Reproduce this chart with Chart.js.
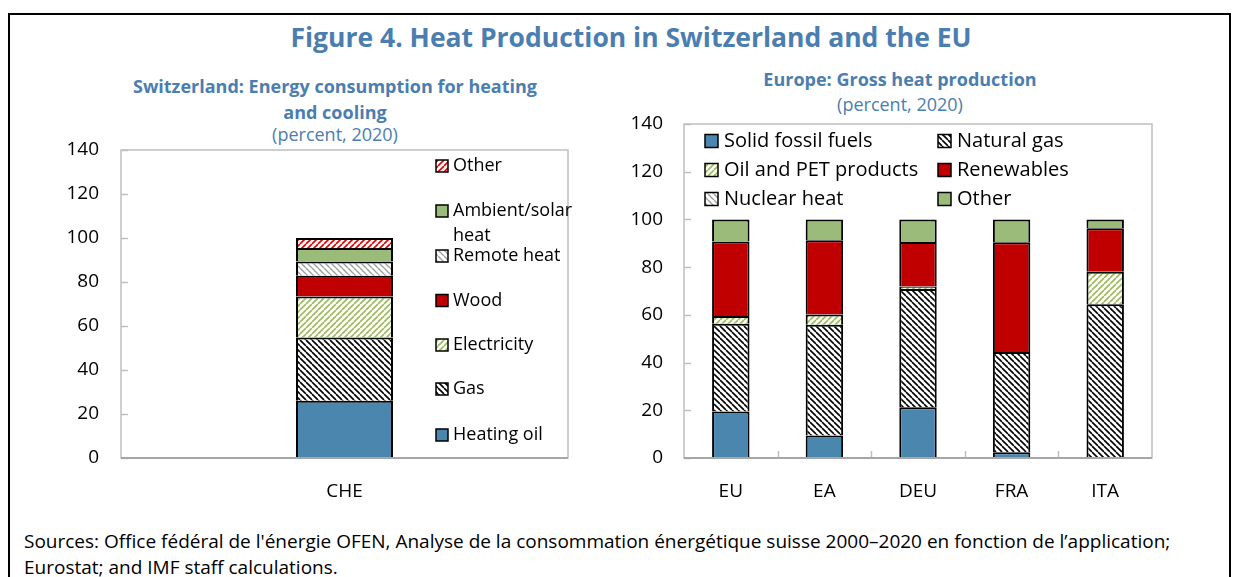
<!DOCTYPE html>
<html><head><meta charset="utf-8">
<script src="https://cdn.jsdelivr.net/npm/chart.js@4.4.0/dist/chart.umd.min.js"></script>
<style>
html,body{margin:0;padding:0;background:#fff;}
body{width:1239px;height:577px;overflow:hidden;position:relative;font-family:"Open Sans",sans-serif;}
#frame{position:absolute;left:8px;top:13px;width:1223px;height:620px;border:2px solid #000;box-sizing:border-box;}
.t{position:absolute;color:#4a7eb0;text-align:center;white-space:nowrap;transform:translateX(-50%);line-height:1;}
#title{left:631px;top:24px;font-size:26.5px;font-weight:700;}
.sub{font-size:18px;font-weight:700;}
.unit{font-size:18px;font-weight:400;}
#src{position:absolute;left:24px;top:528px;font-size:19px;line-height:26px;color:#000;white-space:nowrap;}
canvas{position:absolute;}
#c1{left:0;top:130px;}
#c2{left:600px;top:110px;}
</style></head>
<body>
<div id="frame"></div>
<div class="t" id="title">Figure 4. Heat Production in Switzerland and the EU</div>
<div class="t sub" style="left:335px;top:77px;">Switzerland: Energy consumption for heating</div>
<div class="t sub" style="left:335px;top:103px;">and cooling</div>
<div class="t unit" style="left:335px;top:125px;">(percent, 2020)</div>
<div class="t sub" style="left:900px;top:70px;">Europe: Gross heat production</div>
<div class="t unit" style="left:900px;top:95px;">(percent, 2020)</div>
<canvas id="c1" width="620" height="390"></canvas>
<canvas id="c2" width="639" height="410"></canvas>
<div id="src">Sources: Office fédéral de l'énergie OFEN, Analyse de la consommation énergétique suisse 2000–2020 en fonction de l’application;<br>Eurostat; and IMF staff calculations.</div>
<script>
// ---------- data ----------
const cheCategories = ['CHE'];
const cheHeatingOil = [26.0];
const cheGas = [28.8];
const cheElectricity = [18.6];
const cheWood = [9.4];
const cheRemoteHeat = [6.5];
const cheAmbientSolar = [6.1];
const cheOther = [4.6];

const euCategories = ['EU', 'EA', 'DEU', 'FRA', 'ITA'];
const solidFossil = [19.5, 9.4, 21.3, 2.4, 0];
const naturalGas = [36.8, 46.5, 49.5, 42.0, 64.4];
const oilPet = [3.2, 4.2, 1.1, 0, 13.7];
const nuclearHeat = [0, 0, 0, 0, 0];
const renewables = [31.3, 31.2, 18.6, 46.0, 18.2];
const otherEu = [9.2, 8.7, 9.5, 9.6, 3.7];

const yTickValues = [0, 20, 40, 60, 80, 100, 120, 140];

// ---------- styles ----------
const BLUE = '#4a86ae', RED = '#c00000', GREEN = '#9bbb7b';
function hatch(bg, color, dir, s, lw) {
  const c = document.createElement('canvas'); c.width = s; c.height = s;
  const x = c.getContext('2d');
  x.fillStyle = bg; x.fillRect(0, 0, s, s);
  x.strokeStyle = color; x.lineWidth = lw; x.beginPath();
  for (const k of [-s, 0, s]) {
    if (dir === '\\') { x.moveTo(k, 0); x.lineTo(k + s, s); }
    else { x.moveTo(k, s); x.lineTo(k + s, 0); }
  }
  x.stroke();
  return x.createPattern(c, 'repeat');
}
const pGas = hatch('#fff', '#000', '\\', 6, 1.6);
const pElec = hatch('#fff', '#9bbb59', '/', 6, 1.6);
const pRemote = hatch('#fff', '#a0a0a0', '\\', 6, 1.4);
const pOther = hatch('#fff', '#e00000', '/', 6, 1.6);

Chart.defaults.font.family = '"Open Sans", sans-serif';
Chart.defaults.color = '#000';

const frameAndTicks = {
  id: 'frameAndTicks',
  afterDraw(chart) {
    const ctx = chart.ctx, a = chart.chartArea, y = chart.scales.y, xs = chart.scales.x;
    ctx.save();
    ctx.strokeStyle = '#bfbfbf'; ctx.lineWidth = 1.5;
    ctx.strokeRect(a.left, a.top, a.right - a.left, a.bottom - a.top);
    ctx.beginPath();
    y.ticks.forEach(t => {
      const py = Math.round(y.getPixelForValue(t.value)) + 0.5;
      ctx.moveTo(a.left, py); ctx.lineTo(a.left + 7, py);
    });
    const n = xs.ticks.length;
    for (let i = 0; i < n - 1; i++) {
      const px = Math.round((xs.getPixelForValue(i) + xs.getPixelForValue(i + 1)) / 2) + 0.5;
      ctx.moveTo(px, a.bottom); ctx.lineTo(px, a.bottom - 7);
    }
    ctx.stroke();
    ctx.strokeStyle = '#a6a6a6'; ctx.lineWidth = 2;
    ctx.beginPath(); ctx.moveTo(a.left, a.bottom); ctx.lineTo(a.right, a.bottom); ctx.stroke();
    ctx.restore();
  }
};

const insideLegend = {
  id: 'insideLegend',
  afterDraw(chart, args, opts) {
    if (!opts.items) return;
    const ctx = chart.ctx, a = chart.chartArea;
    ctx.save();
    ctx.font = opts.fontSize + 'px "Open Sans", sans-serif';
    ctx.textBaseline = 'middle';
    opts.items.forEach(it => {
      const bx = a.left + it.x, by = a.top + it.y - opts.box / 2;
      ctx.fillStyle = it.fill; ctx.fillRect(bx, by, opts.box, opts.box);
      ctx.strokeStyle = '#000'; ctx.lineWidth = 1.5; ctx.strokeRect(bx, by, opts.box, opts.box);
      ctx.fillStyle = '#000';
      it.lines.forEach((ln, i) => ctx.fillText(ln, bx + opts.box + opts.gap, a.top + it.y + i * opts.lineH));
    });
    ctx.restore();
  }
};

function yScale(width, pad) {
  return {
    stacked: true, min: 0, max: 140,
    afterBuildTicks: s => { s.ticks = yTickValues.map(v => ({ value: v })); },
    afterFit: s => { s.width = width; s.paddingTop = 0; s.paddingBottom = 0; },
    grid: { display: false, drawTicks: false },
    border: { display: false },
    ticks: { padding: pad, font: { size: 19 }, color: '#000' }
  };
}
function xScale(height, pad) {
  return {
    stacked: true,
    afterFit: s => { s.height = height; s.paddingLeft = 0; s.paddingRight = 0; },
    grid: { display: false, drawTicks: false },
    border: { display: false },
    ticks: { padding: pad, font: { size: 19 }, color: '#000' }
  };
}
const barBase = { borderColor: '#000', borderWidth: 2, borderSkipped: 'start' };

new Chart(document.getElementById('c1'), {
  type: 'bar',
  data: {
    labels: cheCategories,
    datasets: [
      { label: 'Heating oil', data: cheHeatingOil, backgroundColor: BLUE, ...barBase },
      { label: 'Gas', data: cheGas, backgroundColor: pGas, ...barBase },
      { label: 'Electricity', data: cheElectricity, backgroundColor: pElec, ...barBase },
      { label: 'Wood', data: cheWood, backgroundColor: RED, ...barBase },
      { label: 'Remote heat', data: cheRemoteHeat, backgroundColor: pRemote, ...barBase },
      { label: 'Ambient/solar heat', data: cheAmbientSolar, backgroundColor: GREEN, ...barBase },
      { label: 'Other', data: cheOther, backgroundColor: pOther, ...barBase }
    ]
  },
  options: {
    responsive: false, animation: false, devicePixelRatio: 1,
    layout: { padding: { left: 0, top: 20, right: 52, bottom: 0 } },
    datasets: { bar: { categoryPercentage: 1, barPercentage: 0.217 } },
    scales: { x: xScale(62, 22), y: yScale(121, 22) },
    plugins: {
      legend: { display: false }, tooltip: { enabled: false },
      insideLegend: {
        fontSize: 18, box: 12, gap: 5, lineH: 25,
        items: [
          { lines: ['Other'], fill: pOther, x: 315, y: 16 },
          { lines: ['Ambient/solar', 'heat'], fill: GREEN, x: 315, y: 61 },
          { lines: ['Remote heat'], fill: pRemote, x: 315, y: 106 },
          { lines: ['Wood'], fill: RED, x: 315, y: 150.5 },
          { lines: ['Electricity'], fill: pElec, x: 315, y: 195 },
          { lines: ['Gas'], fill: pGas, x: 315, y: 239 },
          { lines: ['Heating oil'], fill: BLUE, x: 315, y: 285 }
        ]
      }
    }
  },
  plugins: [frameAndTicks, insideLegend]
});

new Chart(document.getElementById('c2'), {
  type: 'bar',
  data: {
    labels: euCategories,
    datasets: [
      { label: 'Solid fossil fuels', data: solidFossil, backgroundColor: BLUE, ...barBase },
      { label: 'Natural gas', data: naturalGas, backgroundColor: pGas, ...barBase },
      { label: 'Oil and PET products', data: oilPet, backgroundColor: pElec, ...barBase },
      { label: 'Nuclear heat', data: nuclearHeat, backgroundColor: pRemote, ...barBase },
      { label: 'Renewables', data: renewables, backgroundColor: RED, ...barBase },
      { label: 'Other', data: otherEu, backgroundColor: GREEN, ...barBase }
    ]
  },
  options: {
    responsive: false, animation: false, devicePixelRatio: 1,
    layout: { padding: { left: 0, top: 14, right: 87, bottom: 0 } },
    datasets: { bar: { categoryPercentage: 1, barPercentage: 0.40 } },
    scales: { x: xScale(62, 22), y: yScale(84, 21) },
    plugins: {
      legend: { display: false }, tooltip: { enabled: false },
      insideLegend: {
        fontSize: 20, box: 13, gap: 6, lineH: 25,
        items: [
          { lines: ['Solid fossil fuels'], fill: BLUE, x: 21, y: 17 },
          { lines: ['Natural gas'], fill: pGas, x: 254, y: 17 },
          { lines: ['Oil and PET products'], fill: pElec, x: 21, y: 46 },
          { lines: ['Renewables'], fill: RED, x: 254, y: 46 },
          { lines: ['Nuclear heat'], fill: pRemote, x: 21, y: 75 },
          { lines: ['Other'], fill: GREEN, x: 254, y: 75 }
        ]
      }
    }
  },
  plugins: [frameAndTicks, insideLegend]
});
</script>
</body></html>
